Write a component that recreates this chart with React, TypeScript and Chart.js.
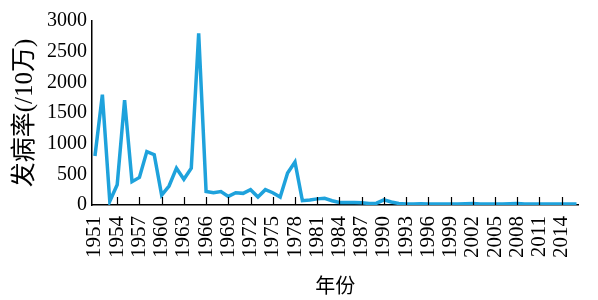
import React, { useEffect, useRef } from "react";
import { Chart, registerables } from "chart.js";

Chart.register(...registerables);

const years: number[] = [];
for (let y = 1951; y <= 2016; y++) years.push(y);

const rates = [
  800, 1800, 60, 330, 1710, 380, 450, 870, 820, 160,
  310, 600, 420, 600, 2800, 220, 200, 220, 140, 200,
  190, 250, 130, 250, 200, 130, 520, 700, 70, 80,
  100, 110, 70, 40, 40, 40, 35, 25, 30, 85,
  50, 25, 15, 15, 20, 15, 15, 15, 15, 15,
  20, 25, 15, 15, 15, 15, 20, 25, 15, 15,
  15, 15, 15, 15, 15, 15,
];

const tickYears = [1951, 1954, 1957, 1960, 1963, 1966, 1969, 1972, 1975, 1978, 1981, 1984, 1987, 1990, 1993, 1996, 1999, 2002, 2005, 2008, 2011, 2014];
const yTicks = [0, 500, 1000, 1500, 2000, 2500, 3000];

const xTitle = "年份";
const yTitle = "发病率(/10万)";

const serif = "'Liberation Serif', 'Times New Roman', 'DejaVu Serif', serif";
const cjk = "'Liberation Serif', 'Noto Sans CJK SC', serif";

const innerTicks = {
  id: "innerTicks",
  afterDatasetsDraw(chart: any) {
    const ctx = chart.ctx;
    const x = chart.scales.x;
    const area = chart.chartArea;
    ctx.save();
    ctx.strokeStyle = "#000";
    ctx.lineWidth = 1.2;
    tickYears.forEach((yr) => {
      if (yr === 1951) return;
      const px = Math.round(x.getPixelForValue(yr)) + 0.5;
      ctx.beginPath();
      ctx.moveTo(px, area.bottom);
      ctx.lineTo(px, area.bottom - 8);
      ctx.stroke();
    });
    ctx.restore();
  },
};

export default function App() {
  const ref = useRef<HTMLCanvasElement>(null);
  useEffect(() => {
    document.body.style.margin = "0";
    const chart = new Chart(ref.current!, {
      type: "line",
      data: {
        datasets: [
          {
            data: years.map((y, i) => ({ x: y, y: rates[i] })),
            borderColor: "#1ea2dc",
            borderWidth: 3.5,
            pointRadius: 0,
            tension: 0,
            fill: false,
          },
        ],
      },
      options: {
        responsive: false,
        animation: false,
        layout: { padding: { top: 21, right: 3, left: 0, bottom: 0 } },
        plugins: { legend: { display: false }, tooltip: { enabled: false } },
        scales: {
          x: {
            type: "linear",
            min: 1950.6,
            max: 2016.3,
            afterBuildTicks: (s: any) => {
              s.ticks = tickYears.map((v) => ({ value: v }));
            },
            afterFit: (s: any) => {
              s.height = 95;
            },
            grid: { display: false, drawTicks: false },
            border: { display: true, color: "#000", width: 1.5 },
            ticks: {
              autoSkip: false,
              maxRotation: 90,
              minRotation: 90,
              padding: 11,
              color: "#000",
              font: { family: serif, size: 21 },
              callback: (v: any) => String(v),
            },
            title: {
              display: true,
              text: xTitle,
              color: "#000",
              font: { family: cjk, size: 20 },
              padding: { top: 0, bottom: 0 },
            },
          },
          y: {
            min: 0,
            max: 3000,
            afterBuildTicks: (s: any) => {
              s.ticks = yTicks.map((v) => ({ value: v }));
            },
            afterFit: (s: any) => {
              s.width = 92;
            },
            grid: { display: false, drawTicks: false },
            border: { display: true, color: "#000", width: 1.5 },
            ticks: {
              padding: 5,
              color: "#000",
              font: { family: serif, size: 20 },
              callback: (v: any) => String(v),
            },
            title: {
              display: true,
              text: yTitle,
              color: "#000",
              font: { family: cjk, size: 25 },
              padding: { top: 10, bottom: 0 },
            },
          },
        },
      },
      plugins: [innerTicks],
    });
    return () => chart.destroy();
  }, []);
  return (
    <div style={{ width: 598, height: 300, background: "#fff" }}>
      <canvas ref={ref} width={598} height={300} style={{ display: "block" }} />
    </div>
  );
}
